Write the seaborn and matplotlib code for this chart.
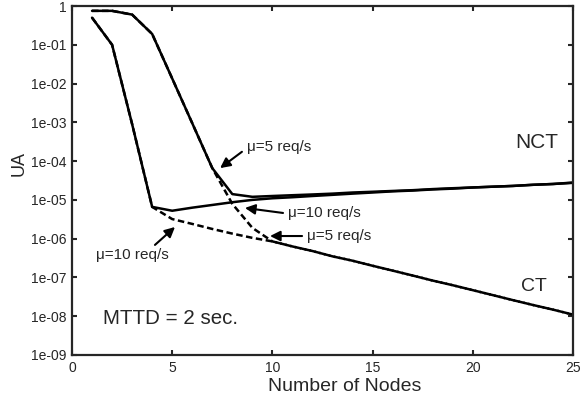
import numpy as np
import pandas as pd
import matplotlib
matplotlib.use('Agg')
import matplotlib.pyplot as plt
import seaborn as sns
from matplotlib.ticker import NullLocator

NODES = list(range(1, 26))

# NCT (solid) and CT (dashed) unavailability
NCT_MU10 = [0.5, 0.1, 9e-4, 6.6e-6, 5.25e-6, 6.3e-6, 7.4e-6, 8.7e-6, 1.0e-5, 1.1e-5,
            1.17e-5, 1.26e-5, 1.35e-5, 1.45e-5, 1.55e-5, 1.66e-5, 1.74e-5, 1.86e-5,
            1.95e-5, 2.09e-5, 2.19e-5, 2.29e-5, 2.45e-5, 2.57e-5, 2.75e-5]
NCT_MU5 = [0.75, 0.75, 0.6, 0.19, 1.35e-2, 9.5e-4, 6.6e-5, 1.41e-5, 1.2e-5, 1.26e-5,
           1.32e-5, 1.38e-5, 1.45e-5, 1.55e-5, 1.62e-5, 1.7e-5, 1.78e-5, 1.9e-5,
           2.0e-5, 2.09e-5, 2.19e-5, 2.29e-5, 2.45e-5, 2.57e-5, 2.8e-5]
CT_MU10 = [0.5, 0.1, 9e-4, 6.6e-6, 3.2e-6, 2.4e-6, 1.78e-6, 1.35e-6, 1.05e-6, 8.5e-7,
           6.3e-7, 4.8e-7, 3.5e-7, 2.7e-7, 2.0e-7, 1.5e-7, 1.12e-7, 8.3e-8,
           6.3e-8, 4.7e-8, 3.5e-8, 2.6e-8, 1.95e-8, 1.48e-8, 1.1e-8]
CT_MU5 = [0.75, 0.75, 0.6, 0.19, 1.35e-2, 9.5e-4, 6.6e-5, 7.9e-6, 1.9e-6, 8.5e-7,
          6.3e-7, 4.8e-7, 3.5e-7, 2.7e-7, 2.0e-7, 1.5e-7, 1.12e-7, 8.3e-8,
          6.3e-8, 4.7e-8, 3.5e-8, 2.6e-8, 1.95e-8, 1.48e-8, 1.1e-8]

Y_TICKS = [1, 1e-1, 1e-2, 1e-3, 1e-4, 1e-5, 1e-6, 1e-7, 1e-8, 1e-9]
Y_LABELS = ['1', '1e-01', '1e-02', '1e-03', '1e-04', '1e-05', '1e-06', '1e-07', '1e-08', '1e-09']
X_TICKS = [0, 5, 10, 15, 20, 25]

sns.set_style('ticks')
plt.rcParams['font.family'] = ['Liberation Sans', 'DejaVu Sans']

frames = []
for name, scheme, vals in [('NCT mu=10', 'NCT', NCT_MU10), ('NCT mu=5', 'NCT', NCT_MU5),
                           ('CT mu=10', 'CT', CT_MU10), ('CT mu=5', 'CT', CT_MU5)]:
    frames.append(pd.DataFrame({'Nodes': NODES, 'UA': vals, 'curve': name, 'scheme': scheme}))
df = pd.concat(frames, ignore_index=True)

fig = plt.figure(figsize=(5.82, 4.04), dpi=100)
ax = fig.add_axes([72 / 582, 1 - 355 / 404, 501 / 582, 349 / 404])

sns.lineplot(data=df, x='Nodes', y='UA', units='curve', estimator=None,
             style='scheme', dashes={'NCT': '', 'CT': (2.6, 1.4)},
             color='black', linewidth=1.8, legend=False, ax=ax)

ax.set_yscale('log')
ax.set_xlim(0, 25)
ax.set_ylim(1e-9, 1)
ax.set_yticks(Y_TICKS, labels=Y_LABELS)
ax.set_xticks(X_TICKS)
ax.yaxis.set_minor_locator(NullLocator())
ax.tick_params(which='both', direction='in', top=True, right=True, length=3.5, width=1.5,
               labelsize=10, pad=4)
for s in ax.spines.values():
    s.set_linewidth(1.6)

ax.set_xlabel('Number of Nodes', fontsize=14)
ax.set_ylabel('UA', fontsize=13)
ax.xaxis.set_label_coords(0.545, -0.065)
ax.yaxis.set_label_coords(-0.088, 0.55)

arrow = dict(arrowstyle='-|>,head_length=0.5,head_width=0.25', color='black', lw=1.5,
             mutation_scale=12, shrinkA=0, shrinkB=0)
ax.annotate('', xy=(7.39, 6.6e-5), xytext=(8.48, 1.74e-4), arrowprops=arrow)
ax.text(8.73, 2.3e-4, 'μ=5 req/s', fontsize=11, ha='left', va='center')
ax.annotate('', xy=(8.63, 6.2e-6), xytext=(10.53, 4.6e-6), arrowprops=arrow)
ax.text(10.78, 4.6e-6, 'μ=10 req/s', fontsize=11, ha='left', va='center')
ax.annotate('', xy=(9.88, 1.17e-6), xytext=(11.48, 1.17e-6), arrowprops=arrow)
ax.text(11.73, 1.17e-6, 'μ=5 req/s', fontsize=11, ha='left', va='center')
ax.annotate('', xy=(5.14, 2.0e-6), xytext=(4.14, 6.9e-7), arrowprops=arrow)
ax.text(1.2, 3.8e-7, 'μ=10 req/s', fontsize=11, ha='left', va='center')

ax.text(22.1, 2.95e-4, 'NCT', fontsize=15, ha='left', va='center')
ax.text(22.4, 5.75e-8, 'CT', fontsize=14, ha='left', va='center')
ax.text(1.55, 8.5e-9, 'MTTD = 2 sec.', fontsize=14.8, ha='left', va='center')

fig.savefig('out.png', dpi=100)
